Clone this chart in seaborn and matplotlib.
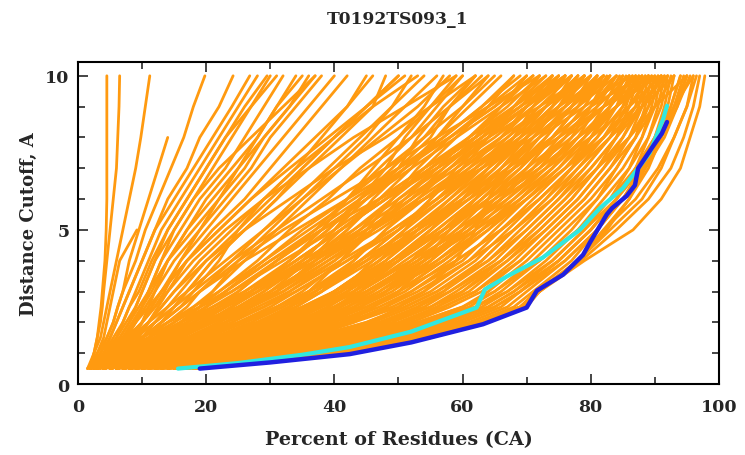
import numpy as np
import pandas as pd
import matplotlib.pyplot as plt
import seaborn as sns
from matplotlib.ticker import MultipleLocator

# distance cutoffs (A) at which each model curve was read
cutoffs = [0.5, 1, 1.5, 2, 2.5, 3, 4, 5, 6, 7, 8, 9, 10]

# percent of residues under each cutoff, one list per model (orange curves)
good_models = [
    [18, 42, 54, 63, 69, 72, 78, 82, 86, 89, 91, 93, 94.5],
    [17, 41, 53, 62, 68, 71, 77, 81, 85, 88, 91, 92.5, 94],
    [17, 40, 52, 61, 67, 70, 76, 81, 85, 88, 90, 92, 93],
    [16, 39, 51, 60, 66, 69, 75, 80, 84, 87, 90, 91.5, 92.5],
    [16, 38, 50, 59, 65, 69, 75, 80, 84, 87, 89, 91, 92],
    [15, 37, 49, 58, 64, 68, 74, 79, 83, 86, 89, 90.5, 91.5],
    [15, 36, 48, 57, 63, 67, 73, 78, 82, 86, 88, 90, 91],
    [14, 35, 47, 55, 62, 66, 72, 77, 81, 85, 88, 89.5, 90.5],
    [14, 34, 46, 54, 61, 65, 71, 76, 81, 84, 87, 89, 90],
    [13, 33, 45, 53, 60, 64, 70, 75, 80, 84, 87, 88.5, 89.5],
    [13, 32, 44, 52, 58, 63, 69, 74, 79, 83, 86, 88, 89],
    [12, 31, 42, 51, 57, 62, 68, 73, 78, 82, 85, 87.5, 88.5],
    [12, 30, 41, 50, 56, 61, 67, 72, 77, 81, 84, 87, 88],
    [11, 29, 40, 48, 55, 59, 66, 71, 76, 80, 84, 86, 87.5],
    [11, 28, 39, 47, 54, 58, 65, 70, 75, 79, 83, 85.5, 87],
    [10, 27, 38, 46, 52, 57, 64, 69, 74, 78, 82, 85, 86.5],
    [10, 26, 36, 45, 51, 56, 63, 68, 73, 77, 81, 84, 86],
    [9, 25, 35, 43, 50, 55, 62, 67, 72, 77, 80, 83, 85.5],
    [9, 24, 34, 42, 49, 54, 61, 66, 71, 76, 80, 83, 85],
    [8, 23, 33, 41, 47, 52, 60, 65, 70, 75, 79, 82, 84.5],
    [8, 22, 32, 40, 46, 51, 58, 64, 69, 74, 78, 81, 84],
    [7, 21, 31, 38, 45, 50, 57, 63, 68, 73, 77, 80, 83],
    [7, 20, 30, 37, 44, 49, 56, 62, 67, 72, 76, 80, 82.5],
    [6, 19, 28, 36, 42, 47, 55, 61, 66, 71, 75, 79, 82],
    [6, 18, 27, 35, 41, 46, 54, 60, 65, 70, 74, 78, 81],
    [5, 17, 26, 33, 40, 45, 53, 59, 64, 69, 73, 77, 80],
    [5, 16, 25, 32, 38, 44, 52, 58, 63, 68, 72, 76, 79],
    [4, 15, 24, 31, 37, 42, 50, 56, 62, 67, 71, 75, 78],
    [4, 14, 23, 30, 36, 41, 49, 55, 61, 66, 70, 74, 77],
    [4, 13, 22, 29, 35, 40, 48, 54, 60, 65, 69, 73, 76],
]
edge_models = [
    [19, 43, 55, 64, 70, 72, 78, 82, 87, 90.5, 93, 95, 96.5],
    [18, 42, 55, 63, 69, 72, 79, 86.6, 91, 94, 95.5, 97, 97.8],
    [18, 42, 54, 63, 69, 71.5, 78.5, 84, 89, 92.5, 94.5, 96, 97],
    [17, 41, 54, 62, 69, 71.5, 78, 83, 88, 91, 93, 95, 96],
    [18, 42, 54, 63, 69.5, 72, 78, 82.5, 86, 88.5, 91.5, 93.5, 95],
]
mid_models = [
    [5, 14, 22, 28, 33, 38, 46, 53, 59, 65, 70, 75, 80],
    [4, 12, 19, 25, 30, 34, 42, 49, 56, 62, 68, 73, 78],
    [6, 16, 25, 31, 36, 41, 50, 57, 63, 69, 74, 78, 82],
    [3, 10, 16, 21, 26, 30, 38, 45, 52, 58, 64, 70, 75],
    [3, 9, 14, 19, 23, 27, 34, 41, 48, 55, 61, 67, 72],
    [2.5, 8, 13, 17, 21, 25, 31, 38, 45, 51, 57, 63, 68],
    [3, 8, 12, 16, 20, 23, 29, 35, 42, 48, 54, 60, 65],
    [4, 11, 17, 22, 26, 30, 36, 41, 47, 54, 62, 69, 76],
    [8, 22, 33, 40, 44, 48, 54, 58, 62, 66, 71, 77, 83],
    [10, 26, 38, 46, 50, 54, 59, 62, 64, 67, 72, 79, 86],
    [7, 20, 30, 37, 42, 46, 52, 57, 62, 68, 74, 80, 88],
    [9, 24, 35, 42, 46, 50, 55, 60, 65, 72, 78, 84, 90],
    [6, 18, 28, 35, 40, 44, 51, 58, 64, 70, 76, 82, 89],
    [5, 15, 24, 31, 36, 40, 47, 54, 61, 68, 75, 82, 91],
    [11, 28, 40, 48, 53, 57, 63, 68, 73, 78, 83, 88, 93],
    [12, 30, 43, 51, 56, 60, 66, 71, 76, 81, 86, 90, 95],
    [8, 21, 32, 39, 44, 48, 56, 63, 70, 76, 82, 87, 92],
    [2, 7, 12, 16, 19, 22, 28, 33, 39, 44, 50, 55, 60],
    [3, 9, 15, 20, 24, 28, 35, 40, 44, 50, 55, 58, 62],
    [2, 6, 11, 15, 18, 21, 26, 31, 36, 41, 46, 51, 56],
    [4, 13, 20, 26, 31, 35, 41, 46, 50, 56, 63, 70, 74],
    [7, 19, 29, 36, 41, 45, 53, 59, 66, 73, 80, 86, 91],
    [3, 8, 13, 18, 22, 26, 33, 38, 42, 47, 52, 56, 60],
    [4, 10, 16, 21, 25, 29, 35, 40, 45, 50, 53, 57, 62],
    [5, 12, 18, 23, 27, 31, 37, 42, 46, 51, 56, 61, 66],
    [3, 7, 11, 14, 17, 19, 24, 29, 34, 39, 44, 49, 54],
    [2, 6, 9, 12, 15, 17, 21, 26, 31, 35, 40, 45, 50],
    [3, 7, 10, 13, 16, 18, 22, 25, 29, 34, 38, 42, 45],
    [4, 9, 13, 16, 19, 21, 25, 30, 35, 40, 45, 49, 52],
    [6, 15, 23, 29, 33, 36, 41, 45, 49, 53, 58, 64, 70],
    [5, 13, 21, 28, 33, 37, 44, 50, 55, 60, 64, 68, 72],
    [6, 17, 26, 33, 38, 42, 49, 55, 60, 64, 68, 71, 75],
    [3, 9, 15, 21, 27, 32, 40, 46, 51, 56, 61, 66, 71],
    [4, 11, 18, 25, 31, 36, 43, 48, 53, 58, 63, 68, 73],
    [5, 13, 21, 28, 34, 38, 45, 51, 57, 62, 67, 72, 77],
    [6, 15, 24, 31, 36, 40, 47, 52, 58, 64, 70, 76, 81],
    [2.5, 7, 13, 19, 25, 30, 38, 44, 49, 54, 59, 64, 68],
    [3, 8, 14, 20, 26, 31, 39, 47, 54, 60, 66, 71, 76],
    [4, 10, 17, 23, 29, 34, 42, 50, 57, 63, 69, 74, 79],
    [5, 12, 19, 26, 32, 37, 45, 53, 60, 66, 72, 77, 82],
    [2, 6, 11, 16, 21, 26, 34, 41, 48, 55, 62, 68, 74],
    [3, 7, 12, 17, 22, 27, 36, 44, 51, 58, 65, 71, 77],
    [7, 17, 26, 33, 38, 42, 48, 53, 58, 63, 68, 73, 78],
    [8, 19, 28, 35, 40, 44, 50, 55, 60, 65, 70, 75, 80],
    [6, 14, 22, 29, 34, 38, 43, 48, 54, 61, 68, 75, 82],
    [4, 9, 15, 21, 26, 31, 37, 43, 49, 55, 62, 69, 76],
    [5, 11, 17, 22, 27, 32, 39, 46, 53, 60, 67, 73, 79],
    [3, 8, 13, 18, 23, 28, 37, 45, 52, 59, 66, 73, 80],
    [2.5, 6, 10, 14, 19, 24, 32, 40, 47, 54, 61, 68, 75],
    [6, 16, 25, 32, 37, 41, 46, 51, 55, 59, 64, 70, 76],
    [7, 18, 27, 34, 39, 43, 49, 56, 62, 67, 71, 75, 79],
    [9, 22, 32, 39, 44, 48, 55, 61, 66, 70, 74, 78, 83],
]
upper_models = [
    [3, 9, 15, 20, 25, 29, 36, 42, 47, 52, 56, 60, 64],
    [4, 11, 18, 24, 29, 33, 40, 46, 52, 57, 62, 66, 70],
    [5, 14, 22, 28, 33, 37, 44, 50, 56, 61, 66, 70, 74],
    [6, 16, 25, 31, 36, 40, 47, 53, 59, 64, 69, 74, 78],
    [7, 18, 27, 34, 39, 43, 50, 57, 63, 68, 73, 77, 81],
    [8, 21, 31, 38, 43, 47, 54, 60, 66, 71, 76, 80, 84],
    [9, 23, 34, 41, 46, 50, 57, 63, 69, 74, 79, 83, 87],
    [10, 25, 36, 43, 48, 52, 59, 66, 72, 77, 82, 86, 89],
    [3, 8, 12, 16, 20, 24, 31, 38, 45, 52, 59, 66, 73],
    [4, 10, 15, 19, 23, 27, 34, 41, 48, 56, 63, 70, 77],
    [5, 12, 18, 23, 27, 31, 38, 46, 54, 62, 69, 76, 82],
    [6, 14, 21, 27, 32, 36, 44, 52, 60, 67, 74, 80, 85],
    [7, 17, 25, 31, 36, 41, 49, 57, 64, 71, 77, 82, 87],
    [8, 19, 28, 35, 40, 45, 53, 61, 68, 74, 79, 84, 88],
    [2, 6, 10, 14, 18, 22, 29, 36, 43, 50, 57, 63, 69],
    [3, 7, 11, 15, 19, 23, 30, 37, 44, 51, 58, 65, 71],
    [2.5, 7, 12, 17, 22, 27, 35, 43, 50, 57, 63, 69, 74],
    [4, 11, 17, 23, 28, 33, 41, 49, 56, 63, 70, 76, 81],
    [5, 13, 20, 26, 31, 36, 45, 53, 61, 68, 75, 81, 86],
    [6, 15, 23, 30, 35, 40, 49, 57, 65, 72, 78, 84, 89],
    [3, 8, 14, 19, 23, 27, 33, 39, 44, 49, 54, 58, 63],
    [2, 5, 8, 11, 14, 17, 23, 29, 35, 41, 47, 53, 58],
    [2.5, 6, 9, 12, 15, 18, 24, 31, 38, 45, 52, 58, 64],
    [3, 7, 10, 13, 16, 19, 26, 34, 42, 50, 58, 65, 71],
    [4, 9, 13, 17, 20, 23, 30, 38, 47, 56, 64, 72, 79],
    [5, 11, 16, 20, 24, 28, 36, 45, 54, 63, 71, 78, 84],
    [2, 5, 7, 9, 11, 13, 17, 22, 27, 33, 39, 45, 51],
    [3, 6, 8.5, 11, 13, 15, 20, 26, 33, 40, 48, 55, 62],
    [4, 7, 10, 13, 16, 19, 25, 32, 40, 48, 56, 64, 72],
    [2.5, 5, 7.5, 10, 12, 14, 18, 23, 29, 36, 43, 51, 59],
    [10, 27, 39, 47, 53, 58, 66, 72, 77, 81, 85, 88, 91],
    [11, 29, 41, 49, 55, 60, 67, 73, 78, 82, 86, 89, 92],
    [12, 31, 43, 51, 57, 62, 69, 74, 79, 83, 87, 90, 93],
    [9, 25, 37, 45, 51, 56, 64, 70, 75, 80, 84, 88, 91.5],
    [8, 23, 34, 42, 48, 53, 61, 68, 74, 79, 83, 87, 90.5],
    [7, 20, 31, 39, 45, 50, 59, 66, 72, 77, 82, 86, 89.5],
    [6, 18, 29, 37, 43, 48, 57, 64, 70, 76, 81, 85, 88.5],
    [5, 16, 26, 34, 40, 45, 54, 62, 69, 75, 80, 84, 87.5],
    [4, 14, 23, 31, 37, 43, 52, 60, 67, 73, 78, 83, 86.5],
    [14, 35, 48, 57, 64, 68, 75, 80, 84, 87, 90, 92.5, 94],
    [15, 37, 50, 59, 65, 69, 76, 81, 85, 88.5, 91, 93, 95],
    [13, 34, 46, 55, 62, 67, 74, 79, 84, 88, 91, 93.5, 95.5],
    [12, 32, 44, 53, 60, 65, 72, 78, 83, 87, 90.5, 93, 96],
    [3, 9, 14, 18, 22, 25, 31, 37, 42, 46, 50, 54, 57],
    [4, 10, 15, 20, 24, 27, 33, 39, 44, 48, 51, 55, 59],
]
poor_models = [
    [2, 4, 5.5, 7, 8, 9, 11, 13, 16, 19, 22, 25, 28],
    [2.5, 5, 6.5, 8, 9, 10, 12, 15, 18, 21, 24, 27, 30],
    [3, 5, 7, 8.5, 10, 11, 13, 16, 19, 23, 26, 29, 32],
    [2, 4.5, 6.5, 8, 9.5, 11, 14, 17, 21, 25, 28, 31, 35],
    [3, 6, 8, 10, 11, 12, 15, 19, 23, 27, 30, 34, 38],
    [2.5, 5.5, 7.5, 9, 10.5, 12, 14, 18, 22, 26, 29, 33, 36],
    [3.5, 6.5, 8.5, 10, 11.5, 13, 16, 20, 24, 28, 32, 36, 40],
    [2, 4, 6, 7.5, 9, 10, 12, 14, 17, 20, 23, 26, 29.5],
    [1.5, 3.5, 5, 6, 7, 8, 10, 12, 14, 17, 19, 22, 24.2],
    [1.5, 3, 4.5, 5.5, 6.2, 7, 9, 10.5, 12.5, 14.5, 16.5, 18, 19.8],
    [3, 6, 8, 10, 11.5, 13, 17, 22, 27, 32, 37, 42, 46],
    [4, 7, 10, 12, 14, 16, 20, 25, 30, 35, 40, 45, 50],
    [3, 6, 9, 11, 13, 15, 19, 24, 29, 34, 40, 46, 53],
    [2, 4, 5, 6, 7, 8, 10, 12, 15, 18, 21, 24, 26.8],
    [2.5, 4.5, 6, 7, 8, 9.5, 11.5, 14, 17, 20, 23, 27, 31],
    [3, 5.5, 7.5, 9, 10, 11.5, 14, 17, 20, 24, 28, 31, 34],
    [2, 5, 7, 8.5, 10, 11, 13, 15, 18, 22, 27, 32, 37],
    [3.5, 7, 9.5, 11, 12.5, 14, 17, 21, 26, 30, 34, 38, 42],
    [2.5, 6, 8.5, 10, 12, 13.5, 16, 19, 22, 25, 29, 33, 37],
    [4, 8, 11, 13, 15, 17, 21, 26, 31, 36, 41, 46, 48],
    [2, 2.5, 3, 3.3, 3.6, 3.8, 4.2, 4.4, 4.5, 4.5, 4.5, 4.5, 4.5],
    [1.8, 2.5, 3, 3.5, 3.8, 4, 4.5, 5, 5.5, 6, 6.2, 6.4, 6.5],
    [2, 3, 4, 4.5, 5, 5.5, 6.5, 9.2],
    [2.5, 3.5, 4.5, 5.5, 6.2, 7, 8, 9.5, 11, 12.5, 14],
    [1.5, 2.5, 3.5, 4, 4.5, 5, 6, 7, 8, 9, 9.8, 10.5, 11.2],
]

# highlighted models
cyan_pct = [15.6, 25, 35, 42.4, 52, 62.2, 63.5, 67, 72.5, 78.3, 81.4, 85.0, 87.4, 89.2, 91.3, 91.9]
cyan_cut = [0.5, 0.68, 0.95, 1.2, 1.7, 2.48, 3.07, 3.5, 4.1, 5.0, 5.7, 6.35, 7.0, 7.5, 8.6, 9.03]
blue_pct = [19.0, 30, 42.4, 52, 63.2, 70.0, 71.6, 75.7, 78.8, 79.9, 82.5, 83.3, 85.6, 86.9, 87.4, 89.5, 91.1, 91.9]
blue_cut = [0.5, 0.7, 0.97, 1.35, 1.94, 2.48, 3.03, 3.55, 4.19, 4.6, 5.5, 5.7, 6.1, 6.45, 7.0, 7.65, 8.13, 8.5]

all_models = good_models + edge_models + mid_models + upper_models + poor_models
rows = []
for i, curve in enumerate(all_models):
    for c, p in zip(cutoffs, curve):
        rows.append({'model': i, 'pct': p, 'cutoff': c})
df = pd.DataFrame(rows)
df_cyan = pd.DataFrame({'pct': cyan_pct, 'cutoff': cyan_cut})
df_blue = pd.DataFrame({'pct': blue_pct, 'cutoff': blue_cut})

sns.set_style('white')
plt.rcParams['font.family'] = ['DejaVu Serif']
plt.rcParams['font.weight'] = 'bold'

fig = plt.figure(figsize=(7.45, 4.56), dpi=100)
ax = fig.add_axes([0.1047, 0.1557, 0.8603, 0.7063])

sns.lineplot(data=df, x='pct', y='cutoff', units='model', estimator=None, sort=False,
             color='#ff9a10', linewidth=2.0, ax=ax)
sns.lineplot(data=df_cyan, x='pct', y='cutoff', estimator=None, sort=False,
             color='#30e8e0', linewidth=3.0, ax=ax)
sns.lineplot(data=df_blue, x='pct', y='cutoff', estimator=None, sort=False,
             color='#2020e0', linewidth=3.2, ax=ax)

ax.set_xlim(0, 100)
ax.set_ylim(0, 10.45)
ax.xaxis.set_major_locator(MultipleLocator(20))
ax.xaxis.set_minor_locator(MultipleLocator(10))
ax.yaxis.set_major_locator(MultipleLocator(5))
ax.yaxis.set_minor_locator(MultipleLocator(1))
ax.tick_params(which='both', direction='in', bottom=True, left=True, top=True, right=True,
               width=1.2, labelsize=12.5)
ax.tick_params(axis='x', which='major', length=7, pad=10)
ax.tick_params(axis='y', which='major', length=7, pad=6)
ax.tick_params(which='minor', length=5)
for s in ax.spines.values():
    s.set_linewidth(1.5)
    s.set_color('black')

ax.set_xlabel('Percent of Residues (CA)', fontsize=13.8, fontweight='bold', labelpad=11)
ax.set_ylabel('Distance Cutoff, A', fontsize=13, fontweight='bold', labelpad=5)
fig.text(0.534, 0.958, 'T0192TS093_1', ha='center', va='center', fontsize=12.3, fontweight='bold')

plt.savefig('out.png', dpi=100)
